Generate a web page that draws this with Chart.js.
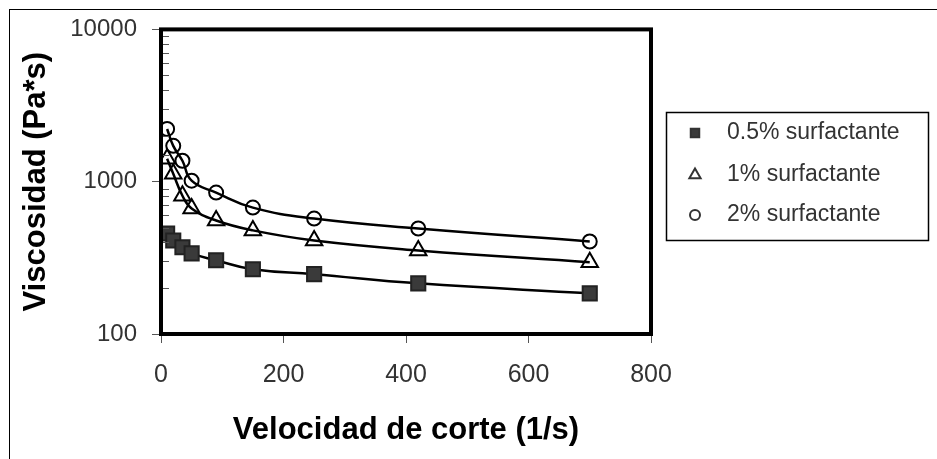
<!DOCTYPE html>
<html>
<head>
<meta charset="utf-8">
<title>Viscosidad vs velocidad de corte</title>
<script src="https://cdn.jsdelivr.net/npm/chart.js@4.4.1/dist/chart.umd.min.js"></script>
<style>
  html, body { margin: 0; padding: 0; background: #fff; overflow: hidden; }
  #wrap { position: relative; width: 937px; height: 459px; }
  #frame { position: absolute; left: 9px; top: 9px; right: -5px; bottom: -5px;
           border-left: 1px solid #000; border-top: 1px solid #000; pointer-events: none; }
  canvas { position: absolute; left: 0; top: 0; }
</style>
</head>
<body>
<div id="wrap">
  <canvas id="chart" width="937" height="459"></canvas>
  <div id="frame"></div>
</div>
<script>
/* ---- datos ---- */
const shearRate = [10, 20, 35, 50, 90, 150, 250, 420, 700];
const visc05 = [457, 411, 371, 338, 305, 266, 247, 215, 185];
const visc1  = [1413, 1127, 809, 667, 556, 479, 411, 354, 296];
const visc2  = [2220, 1719, 1372, 1015, 848, 676, 573, 493, 405];

const seriesLabels = ['0.5% surfactante', '1% surfactante', '2% surfactante'];
const xTicks = [0, 200, 400, 600, 800];
const yDecades = [100, 1000, 10000];

const FONT = '"Liberation Sans", Arial, sans-serif';
Chart.defaults.font.family = FONT;

function isDecade(v) {
  const l = Math.log10(v);
  return Math.abs(l - Math.round(l)) < 1e-9;
}

function toPoints(ys) {
  return shearRate.map((x, i) => ({ x: x, y: ys[i] }));
}

/* ---- caja de ejes + marcas menores hacia dentro ---- */
const axisBox = {
  id: 'axisBox',
  afterDraw(chart) {
    const { ctx, chartArea: a, scales } = chart;
    ctx.save();
    ctx.strokeStyle = '#555';
    ctx.lineWidth = 1;
    scales.y.ticks.forEach(t => {
      if (isDecade(t.value)) return;
      const y = Math.round(scales.y.getPixelForValue(t.value)) + 0.5;
      ctx.beginPath();
      ctx.moveTo(a.left, y);
      ctx.lineTo(a.left + 8, y);
      ctx.stroke();
    });
    ctx.strokeStyle = '#000';
    ctx.lineWidth = 4;
    ctx.strokeRect(a.left, a.top, a.right - a.left, a.bottom - a.top);
    ctx.restore();
  }
};

/* ---- leyenda con recuadro ---- */
const legendBox = {
  id: 'legendBox',
  afterDraw(chart) {
    const ctx = chart.ctx;
    const rowsY = [133, 175, 215];
    const sizes = [6, 6.5, 5];
    ctx.save();
    ctx.strokeStyle = '#000';
    ctx.lineWidth = 1.5;
    ctx.strokeRect(666.5, 112.5, 262, 128);
    chart.data.datasets.forEach((ds, i) => {
      ctx.fillStyle = ds.pointBackgroundColor;
      ctx.strokeStyle = '#333';
      ctx.lineWidth = 2;
      Chart.helpers.drawPoint(ctx, { pointStyle: ds.pointStyle, radius: sizes[i], borderWidth: 2, rotation: 0 }, 695, rowsY[i]);
      ctx.fillStyle = '#333';
      ctx.font = '23px ' + FONT;
      ctx.textBaseline = 'middle';
      ctx.fillText(ds.label, 727, rowsY[i]);
    });
    ctx.restore();
  }
};

const common = {
  showLine: true,
  borderColor: '#000',
  borderWidth: 2.5,
  tension: 0.45,
  pointBorderColor: '#000',
  pointBorderWidth: 2,
};

new Chart(document.getElementById('chart'), {
  type: 'scatter',
  data: {
    datasets: [
      { ...common, label: seriesLabels[0], data: toPoints(visc05),
        pointStyle: 'rect', pointRadius: 10, pointBackgroundColor: '#3a3a3a', pointBorderColor: '#222' },
      { ...common, label: seriesLabels[1], data: toPoints(visc1),
        pointStyle: 'triangle', pointRadius: 9.5, pointBackgroundColor: 'rgba(255,255,255,0)' },
      { ...common, label: seriesLabels[2], data: toPoints(visc2),
        pointStyle: 'circle', pointRadius: 7, pointBackgroundColor: 'rgba(255,255,255,0)' },
    ],
  },
  options: {
    responsive: false,
    animation: false,
    layout: { padding: { left: 18, top: 28, right: 286, bottom: 10 } },
    plugins: {
      legend: { display: false },
      tooltip: { enabled: false },
    },
    scales: {
      x: {
        type: 'linear',
        min: 0, max: 800,
        afterBuildTicks: s => { s.ticks = xTicks.map(v => ({ value: v })); },
        afterFit: s => { s.height = 115; },
        border: { display: false },
        grid: { drawOnChartArea: false, tickLength: 9, color: '#555', lineWidth: 1 },
        ticks: { color: '#333', padding: 17, font: { size: 25 }, maxRotation: 0 },
        title: { display: true, text: 'Velocidad de corte (1/s)', color: '#000',
                 font: { size: 31, weight: 'bold' }, padding: 0 },
      },
      y: {
        type: 'logarithmic',
        min: 100, max: 10000,
        afterFit: s => { s.width = 143; },
        border: { display: false },
        grid: {
          drawOnChartArea: false, tickLength: 9, lineWidth: 1,
          color: c => (c.tick && isDecade(c.tick.value) ? '#555' : 'rgba(0,0,0,0)'),
        },
        ticks: {
          autoSkip: false, color: '#333', padding: 15, font: { size: 24 },
          callback: v => (yDecades.includes(v) ? String(v) : ''),
        },
        title: { display: true, text: 'Viscosidad (Pa*s)', color: '#000',
                 font: { size: 31, weight: 'bold' }, padding: 0 },
      },
    },
  },
  plugins: [axisBox, legendBox],
});
</script>
</body>
</html>
